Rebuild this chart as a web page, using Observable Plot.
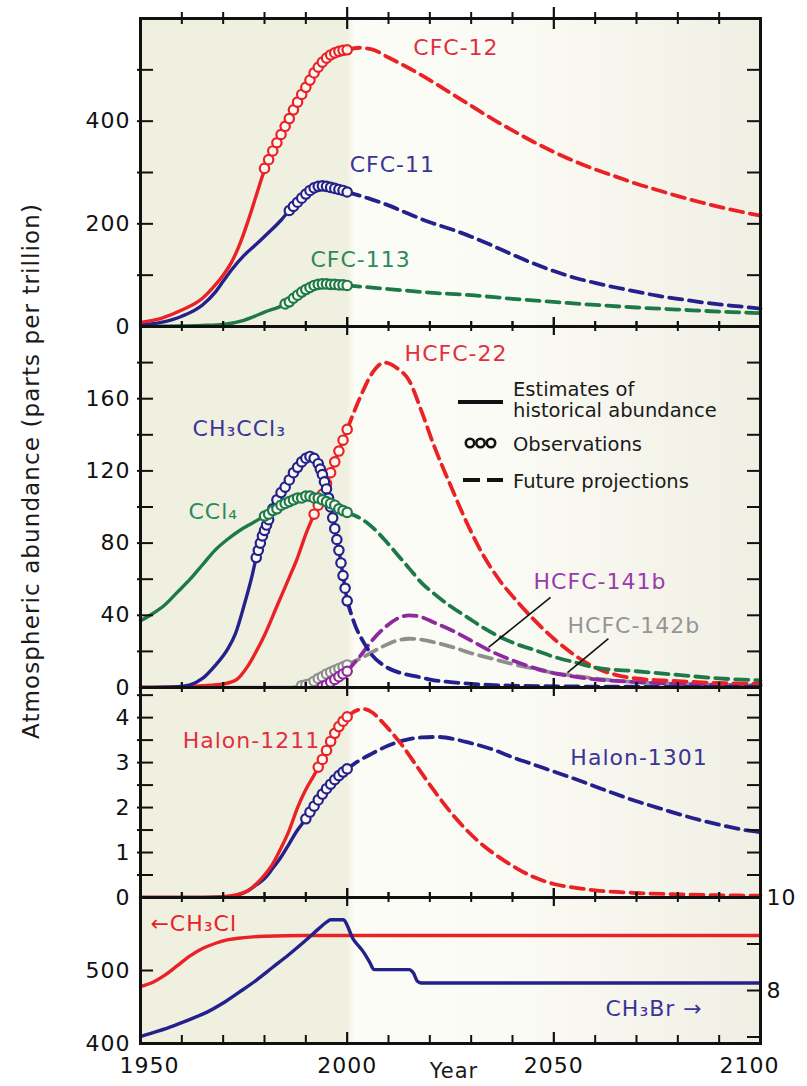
<!DOCTYPE html>
<html>
<head>
<meta charset="utf-8">
<script src="https://cdn.jsdelivr.net/npm/d3@7"></script>
<script src="https://cdn.jsdelivr.net/npm/@observablehq/plot@0.6"></script>
<style>
  body { margin: 0; background: #fff; }
  #chart { position: relative; width: 807px; height: 1086px; overflow: hidden; font-family: "DejaVu Sans", sans-serif; }
  #chart svg.panel { position: absolute; left: 0; }
  #chart svg.panel text { letter-spacing: 1px; }
  #overlay { position: absolute; left: 0; top: 0; overflow: visible; }
  #overlay text { font-family: "DejaVu Sans", sans-serif; fill: #1a1a1a; }
</style>
</head>
<body>
<svg width="0" height="0" style="position:absolute">
  <defs>
    <linearGradient id="bg" x1="0" x2="1" y1="0" y2="0">
      <stop offset="0" stop-color="#f0f0e1"/>
      <stop offset="0.333" stop-color="#f0f0e1"/>
      <stop offset="0.345" stop-color="#fcfcf6"/>
      <stop offset="0.6" stop-color="#fbfbf5"/>
      <stop offset="1" stop-color="#efefe4"/>
    </linearGradient>
  </defs>
</svg>
<div id="chart"></div>
<script>
// ---------------- DATA ----------------
// Panel 1 (ppt): CFC-12, CFC-11, CFC-113
const cfc12Hist = [[1950,8],[1955,16],[1960,32],[1965,55],[1968,80],[1970,100],[1972,125],[1974,160],[1976,205],[1978,255],[1980,305],[1982,343],[1984,376],[1986,405],[1989,452],[1992,494],[1995,523],[1998,536],[2000,539]];
const cfc12Obs = [[1980,308],[1981,325],[1982,342],[1983,358],[1984,374],[1985,390],[1986,405],[1987,422],[1988,437],[1989,452],[1990,466],[1991,480],[1992,494],[1993,505],[1994,515],[1995,523],[1996,529],[1997,533],[1998,536],[1999,538],[2000,539]];
const cfc12Proj = [[2000,539],[2003,543],[2006,540],[2010,524],[2015,503],[2020,480],[2025,455],[2030,430],[2035,405],[2040,382],[2045,360],[2050,340],[2055,322],[2060,306],[2065,292],[2070,278],[2075,266],[2080,254],[2085,243],[2090,233],[2095,224],[2100,216]];

const cfc11Hist = [[1950,3],[1955,8],[1960,20],[1965,42],[1968,66],[1970,88],[1972,110],[1975,138],[1978,160],[1981,183],[1984,207],[1986,226],[1988,242],[1990,258],[1992,270],[1994,274],[1996,271],[1998,267],[2000,262]];
const cfc11Obs = [[1986,226],[1987,234],[1988,242],[1989,250],[1990,258],[1991,265],[1992,270],[1993,273],[1994,274],[1995,273],[1996,271],[1997,269],[1998,267],[1999,265],[2000,262]];
const cfc11Proj = [[2000,262],[2005,250],[2010,236],[2015,219],[2020,203],[2025,190],[2030,175],[2035,158],[2040,140],[2045,123],[2050,108],[2055,95],[2060,85],[2065,76],[2070,68],[2075,60],[2080,54],[2085,48],[2090,43],[2095,39],[2100,35]];

const cfc113Hist = [[1950,0],[1960,1],[1965,2],[1970,4],[1975,12],[1980,28],[1985,44],[1988,61],[1991,76],[1994,83],[1997,82],[2000,80]];
const cfc113Obs = [[1985,44],[1986,48],[1987,55],[1988,61],[1989,67],[1990,72],[1991,76],[1992,80],[1993,82],[1994,83],[1995,83],[1996,82],[1997,82],[1998,81],[1999,81],[2000,80]];
const cfc113Proj = [[2000,80],[2010,73],[2020,66],[2030,61],[2040,54],[2050,48],[2060,42],[2070,37],[2080,33],[2090,29],[2100,26]];

// Panel 2 (ppt): HCFC-22, CH3CCl3, CCl4, HCFC-141b, HCFC-142b
const hcfc22Hist = [[1950,0],[1960,0.5],[1965,1],[1970,2],[1973,4],[1976,12],[1978,20],[1980,29],[1983,45],[1986,61],[1988,72],[1990,85],[1992,96],[1994,107],[1996,119],[1998,131],[2000,143]];
const hcfc22Obs = [[1992,96],[1993,101],[1994,107],[1995,113],[1996,119],[1997,125],[1998,131],[1999,137],[2000,143]];
const hcfc22Proj = [[2000,143],[2003,160],[2006,174],[2009,180],[2012,177],[2015,170],[2018,153],[2021,134],[2025,112],[2029,91],[2033,73],[2037,59],[2041,48],[2045,38],[2050,27],[2055,18],[2060,11],[2065,7],[2070,5],[2080,3.5],[2090,2.5],[2100,2]];

const ch3ccl3Hist = [[1950,0],[1958,0.3],[1962,1.5],[1965,5],[1968,12],[1971,21],[1973,30],[1975,45],[1977,62],[1978,72],[1980,87],[1982,99],[1984,108],[1986,115],[1988,122],[1990,127],[1991,128],[1992,127],[1993,124],[1994,118],[1995,110],[1996,100],[1997,88],[1998,76],[1999,62],[2000,48]];
const ch3ccl3Obs = [[1978,72],[1978.5,76],[1979,80],[1979.5,84],[1980,87],[1980.5,90],[1981,93],[1982,99],[1983,104],[1984,108],[1985,111],[1986,115],[1987,119],[1988,122],[1989,125],[1990,127],[1991,128],[1992,127],[1993,124],[1993.5,121],[1994,118],[1994.5,114],[1995,110],[1995.5,105],[1996,100],[1996.5,94],[1997,88],[1997.5,82],[1998,76],[1998.5,69],[1999,62],[1999.5,55],[2000,48]];
const ch3ccl3Proj = [[2000,48],[2002,34],[2004,25],[2006,18],[2009,12],[2013,8],[2017,6],[2021,4],[2025,3],[2030,2],[2040,1],[2060,0.5],[2100,0.3]];

const ccl4Hist = [[1950,37],[1953,41],[1956,46],[1959,53],[1962,60],[1965,68],[1968,76],[1971,82],[1974,87],[1977,91],[1980,95],[1983,99],[1986,103],[1989,105],[1991,106],[1994,104],[1997,101],[2000,97]];
const ccl4Obs = [[1980,95],[1981,96],[1982,98],[1983,99],[1984,101],[1985,102],[1986,103],[1987,104],[1988,105],[1989,105],[1990,106],[1991,106],[1992,105],[1993,105],[1994,104],[1995,103],[1996,102],[1997,101],[1998,99],[1999,98],[2000,97]];
const ccl4Proj = [[2000,97],[2003,94],[2006,89],[2009,82],[2012,74],[2015,66],[2018,58],[2021,52],[2025,45],[2029,39],[2033,33],[2037,28],[2041,24],[2045,21],[2050,17],[2055,14],[2060,11],[2070,9],[2080,7],[2090,5],[2100,4]];

const hcfc141bHist = [[1993,0],[1994,0.5],[1995,1.5],[1996,3],[1997,4.5],[1998,6],[1999,7.5],[2000,9]];
const hcfc141bObs = [[1994,0.5],[1995,1.5],[1996,3],[1997,4.5],[1998,6],[1999,7.5],[2000,9]];
const hcfc141bProj = [[2000,9],[2003,17],[2006,26],[2009,33],[2012,38],[2015,40],[2018,39],[2021,36],[2025,32],[2030,26],[2034,21],[2040,15],[2045,11],[2050,8],[2055,6],[2060,4.5],[2070,3],[2080,2],[2090,1.5],[2100,1]];

const hcfc142bHist = [[1950,0],[1985,0],[1988,0.5],[1989,1],[1990,1.5],[1991,2],[1992,3.5],[1993,5],[1994,6],[1995,7.5],[1996,8.5],[1997,9.5],[1998,10.5],[1999,11.5],[2000,12.5]];
const hcfc142bObs = [[1989,1],[1990,1.5],[1991,2],[1992,3.5],[1993,5],[1994,6],[1995,7.5],[1996,8.5],[1997,9.5],[1998,10.5],[1999,11.5],[2000,12.5]];
const hcfc142bProj = [[2000,12.5],[2004,17],[2008,22],[2012,26],[2015,27],[2018,26.5],[2022,24.5],[2026,22],[2030,19],[2035,16],[2040,13],[2045,10.5],[2050,8],[2055,6.5],[2060,5],[2070,3],[2080,2],[2090,1.5],[2100,1]];

// Panel 3 (ppt): Halon-1211, Halon-1301
const h1211Hist = [[1950,0],[1965,0],[1970,0.02],[1973,0.06],[1976,0.15],[1978,0.3],[1980,0.5],[1982,0.75],[1984,1.1],[1986,1.5],[1988,2.0],[1990,2.4],[1992,2.72],[1994,3.07],[1996,3.47],[1998,3.8],[2000,4.02]];
const h1211Obs = [[1993,2.9],[1994,3.07],[1995,3.27],[1996,3.47],[1997,3.65],[1998,3.8],[1999,3.92],[2000,4.02]];
const h1211Proj = [[2000,4.02],[2002,4.15],[2004,4.19],[2006,4.12],[2008,3.95],[2010,3.75],[2013,3.42],[2017,2.9],[2021,2.38],[2025,1.9],[2029,1.49],[2033,1.15],[2037,0.88],[2041,0.65],[2045,0.46],[2050,0.3],[2055,0.22],[2060,0.16],[2070,0.1],[2080,0.07],[2090,0.05],[2100,0.04]];

const h1301Hist = [[1950,0],[1965,0],[1970,0.01],[1973,0.04],[1976,0.15],[1978,0.28],[1980,0.42],[1982,0.65],[1984,0.9],[1986,1.2],[1988,1.5],[1990,1.75],[1992,2.03],[1994,2.3],[1996,2.52],[1998,2.71],[2000,2.86]];
const h1301Obs = [[1990,1.75],[1991,1.9],[1992,2.03],[1993,2.17],[1994,2.3],[1995,2.42],[1996,2.52],[1997,2.62],[1998,2.71],[1999,2.79],[2000,2.86]];
const h1301Proj = [[2000,2.86],[2003,3.05],[2006,3.2],[2010,3.38],[2014,3.5],[2018,3.56],[2022,3.57],[2026,3.52],[2030,3.43],[2035,3.3],[2040,3.12],[2045,2.96],[2050,2.8],[2055,2.64],[2060,2.47],[2065,2.3],[2070,2.14],[2075,2.0],[2080,1.86],[2085,1.73],[2090,1.62],[2095,1.52],[2100,1.45]];

// Panel 4: CH3Cl (left axis, ppt) and CH3Br (right axis, ppt)
const ch3cl = [[1950,478],[1953,484],[1956,494],[1959,507],[1962,520],[1965,530],[1968,537],[1971,542],[1975,545],[1980,547],[1990,548],[2000,548],[2050,548],[2100,548]];
const ch3br = [[1950,7.01],[1954,7.12],[1958,7.24],[1962,7.38],[1966,7.53],[1970,7.73],[1974,7.97],[1978,8.22],[1982,8.5],[1986,8.78],[1990,9.08],[1993,9.32],[1995,9.47],[1996,9.52],[1999,9.52],[2001.5,9.1],[2004,8.82],[2005.5,8.6],[2006.5,8.45],[2015,8.45],[2016,8.38],[2017,8.2],[2018,8.16],[2100,8.16]];

// Tick values
const xMinorTicks = [1960,1970,1980,1990,2010,2020,2030,2040,2060,2070,2080,2090];
const xMajorTicks = [2000,2050];
const y1Ticks = [100,200,300,400,500];
const y1Labels = [0,200,400];
const y2Ticks = [20,40,60,80,100,120,140,160,180];
const y2Labels = [0,40,80,120,160];
const y3Ticks = [0.5,1,1.5,2,2.5,3,3.5,4,4.5];
const y3Labels = [0,1,2,3,4];
const y4LeftTicks = [500];
const y4LeftLabels = [400,500];
const y4RightTicks = [7,8,9];
const y4RightLabels = [8,10];

// ---------------- STYLE ----------------
const RED = "#ea2226", BLUE = "#24218c", GREEN = "#1d7a48", PURPLE = "#8e2a9e", GREY = "#8e8e8e";
const W = 807, ML = 140, MR = 47, PW = W - ML - MR;
const INK = "#111";
const fx = d => d[0], fy = d => d[1];

function seriesMarks(hist, obs, proj, color) {
  const m = [];
  if (hist) m.push(Plot.line(hist, {x: fx, y: fy, stroke: color, strokeWidth: 3.4, curve: "monotone-x"}));
  if (proj) m.push(Plot.line(proj, {x: fx, y: fy, stroke: color, strokeWidth: 3.8, strokeDasharray: "13,7", curve: "monotone-x"}));
  if (obs) m.push(Plot.dot(obs, {x: fx, y: fy, r: 4.7, stroke: color, strokeWidth: 2.2, fill: "#f9f9f2"}));
  return m;
}

function tickMarks(innerH, yTicks, {top = [5, 9], bottom = [5, 9], bottomInward = false}) {
  const m = [];
  m.push(Plot.tickX(xMinorTicks, {x: d => d, insetTop: -top[0], insetBottom: innerH - top[0], stroke: INK, strokeWidth: 2}));
  m.push(Plot.tickX(xMajorTicks, {x: d => d, insetTop: -top[1], insetBottom: innerH - top[1], stroke: INK, strokeWidth: 2.2}));
  if (bottomInward) {
    m.push(Plot.tickX(xMinorTicks, {x: d => d, insetTop: innerH - bottom[0], insetBottom: 0, stroke: INK, strokeWidth: 2}));
    m.push(Plot.tickX(xMajorTicks, {x: d => d, insetTop: innerH - bottom[1], insetBottom: 0, stroke: INK, strokeWidth: 2.2}));
  } else {
    m.push(Plot.tickX(xMinorTicks, {x: d => d, insetTop: innerH - bottom[0], insetBottom: -bottom[0], stroke: INK, strokeWidth: 2}));
    m.push(Plot.tickX(xMajorTicks, {x: d => d, insetTop: innerH - bottom[1], insetBottom: -bottom[1], stroke: INK, strokeWidth: 2.2}));
  }
  if (yTicks) {
    m.push(Plot.tickY(yTicks, {y: d => d, insetLeft: -3, insetRight: PW - 13, stroke: INK, strokeWidth: 2}));
    m.push(Plot.tickY(yTicks, {y: d => d, insetLeft: PW - 13, insetRight: 0, stroke: INK, strokeWidth: 2}));
  }
  return m;
}

function panel({frameTop, innerH, yDomain, marks, mb = 14, xAxis = false}) {
  const mt = 14;
  const svg = Plot.plot({
    width: W,
    height: mt + innerH + mb,
    marginLeft: ML, marginRight: MR, marginTop: mt, marginBottom: mb,
    x: xAxis ? {domain: [1950, 2100]} : {domain: [1950, 2100], axis: null},
    y: {domain: yDomain},
    style: {fontFamily: "DejaVu Sans, sans-serif", background: "transparent", overflow: "visible", color: INK},
    marks: [
      Plot.frame({fill: "url(#bg)"}),
      ...marks,
      Plot.frame({stroke: INK, strokeWidth: 3})
    ]
  });
  svg.classList.add("panel");
  svg.style.top = (frameTop - mt) + "px";
  document.getElementById("chart").appendChild(svg);
}

const labelFont = 22;
const yAxisLabels = (vals) => Plot.axisY(vals, {anchor: "left", tickSize: 0, tickPadding: 10, fontSize: 22, label: null, fill: INK});

// ---------------- PANEL 1 ----------------
const p1Labels = [
  {x: 2016, y: 542, t: "CFC-12", c: "#df3040"},
  {x: 2000.6, y: 314, t: "CFC-11", c: "#3a3597"},
  {x: 1991.1, y: 129, t: "CFC-113", c: "#2a8a58"}
];
panel({
  frameTop: 18, innerH: 308, yDomain: [0, 600],
  marks: [
    ...seriesMarks(cfc113Hist, cfc113Obs, cfc113Proj, GREEN),
    ...seriesMarks(cfc11Hist, cfc11Obs, cfc11Proj, BLUE),
    ...seriesMarks(cfc12Hist, cfc12Obs, cfc12Proj, RED),
    Plot.text(p1Labels, {x: "x", y: "y", text: "t", fill: "c", textAnchor: "start", fontSize: labelFont}),
    ...tickMarks(308, y1Ticks, {top: [6, 11], bottom: [5, 9]}),
    yAxisLabels(y1Labels)
  ]
});

// ---------------- PANEL 2 ----------------
const p2Labels = [
  {x: 2013.9, y: 185, t: "HCFC-22", c: "#e03040"},
  {x: 1962.6, y: 143.5, t: "CH₃CCl₃", c: "#3a3597"},
  {x: 1961.6, y: 97, t: "CCl₄", c: "#2a8a58"},
  {x: 2045.1, y: 58.2, t: "HCFC-141b", c: "#9a3aab"},
  {x: 2053.3, y: 34.3, t: "HCFC-142b", c: "#959595"}
];
const p2Leaders = [
  {x1: 2049.2, y1: 49.9, x2: 2034.2, y2: 22.2},
  {x1: 2063.2, y1: 27.1, x2: 2053.3, y2: 8.3}
];
panel({
  frameTop: 326, innerH: 361, yDomain: [0, 200],
  marks: [
    ...seriesMarks(hcfc142bHist, hcfc142bObs, hcfc142bProj, GREY),
    ...seriesMarks(hcfc141bHist, hcfc141bObs, hcfc141bProj, PURPLE),
    ...seriesMarks(hcfc22Hist, hcfc22Obs, hcfc22Proj, RED),
    ...seriesMarks(ch3ccl3Hist, ch3ccl3Obs, ch3ccl3Proj, BLUE),
    ...seriesMarks(ccl4Hist, ccl4Obs, ccl4Proj, GREEN),
    Plot.link(p2Leaders, {x1: "x1", y1: "y1", x2: "x2", y2: "y2", stroke: INK, strokeWidth: 1.6}),
    Plot.text(p2Labels, {x: "x", y: "y", text: "t", fill: "c", textAnchor: "start", fontSize: labelFont}),
    ...tickMarks(361, y2Ticks, {top: [5, 9], bottom: [5, 9]}),
    yAxisLabels(y2Labels)
  ]
});

// ---------------- PANEL 3 ----------------
const p3Labels = [
  {x: 1960.2, y: 3.49, t: "Halon-1211", c: "#e03040"},
  {x: 2054, y: 3.11, t: "Halon-1301", c: "#3a3597"}
];
panel({
  frameTop: 687, innerH: 210, yDomain: [0, 4.67],
  marks: [
    ...seriesMarks(h1301Hist, h1301Obs, h1301Proj, BLUE),
    ...seriesMarks(h1211Hist, h1211Obs, h1211Proj, RED),
    Plot.text(p3Labels, {x: "x", y: "y", text: "t", fill: "c", textAnchor: "start", fontSize: labelFont}),
    ...tickMarks(210, y3Ticks, {top: [5, 9], bottom: [5, 9]}),
    yAxisLabels(y3Labels)
  ]
});

// ---------------- PANEL 4 ----------------
const rightToLeft = d3.scaleLinear([8, 10], [472.6, 600]);
const ch3brLeft = ch3br.map(([yr, v]) => [yr, rightToLeft(v)]);
const p4Labels = [
  {x: 1952.4, y: 564.4, t: "←CH₃Cl", c: RED},
  {x: 2062.5, y: 448, t: "CH₃Br →", c: "#3a3597"}
];
panel({
  frameTop: 897, innerH: 146, yDomain: [400, 600], mb: 43, xAxis: true,
  marks: [
    Plot.line(ch3cl, {x: fx, y: fy, stroke: RED, strokeWidth: 3.4, curve: "monotone-x"}),
    Plot.line(ch3brLeft, {x: fx, y: fy, stroke: BLUE, strokeWidth: 3.4, curve: "monotone-x"}),
    Plot.text(p4Labels, {x: "x", y: "y", text: "t", fill: "c", textAnchor: "start", fontSize: labelFont}),
    ...tickMarks(146, null, {top: [5, 9], bottom: [8, 11], bottomInward: true}),
    Plot.tickY(y4LeftTicks, {y: d => d, insetLeft: 0, insetRight: PW - 13, stroke: INK, strokeWidth: 2}),
    Plot.tickY(y4RightTicks.map(v => rightToLeft(v)), {y: d => d, insetLeft: PW - 13, insetRight: 0, stroke: INK, strokeWidth: 2}),
    yAxisLabels(y4LeftLabels),
    Plot.axisY(y4RightLabels.map(v => rightToLeft(v)), {anchor: "right", tickSize: 0, tickPadding: 6, fontSize: 22, label: null, fill: INK, tickFormat: d => String(Math.round(rightToLeft.invert(d)))}),
    Plot.axisX([1950], {anchor: "bottom", tickSize: 0, tickPadding: 14, fontSize: 22, label: null, dx: 9, tickFormat: d => String(d)}),
    Plot.axisX([2000, 2050], {anchor: "bottom", tickSize: 0, tickPadding: 14, fontSize: 22, label: null, tickFormat: d => String(d)}),
    Plot.axisX([2100], {anchor: "bottom", tickSize: 0, tickPadding: 14, fontSize: 22, label: null, dx: -11, tickFormat: d => String(d)})
  ]
});

// ---------------- OVERLAY: axis titles and legend ----------------
const ns = "http://www.w3.org/2000/svg";
const ov = document.createElementNS(ns, "svg");
ov.setAttribute("id", "overlay");
ov.setAttribute("width", 807);
ov.setAttribute("height", 1086);
ov.innerHTML = `
  <text transform="translate(39,471) rotate(-90)" text-anchor="middle" font-size="23" style="letter-spacing:1.1px">Atmospheric abundance (parts per trillion)</text>
  <text x="454" y="1078" text-anchor="middle" font-size="21" style="letter-spacing:1px">Year</text>
  <g>
    <line x1="458" x2="503" y1="402" y2="402" stroke="#111" stroke-width="4"/>
    <text x="513" y="396" font-size="19.5">Estimates of</text>
    <text x="513" y="417" font-size="19.5">historical abundance</text>
    <circle cx="470" cy="443" r="4.2" fill="none" stroke="#111" stroke-width="2.6"/>
    <circle cx="480.5" cy="443" r="4.2" fill="none" stroke="#111" stroke-width="2.6"/>
    <circle cx="491" cy="443" r="4.2" fill="none" stroke="#111" stroke-width="2.6"/>
    <text x="513" y="451" font-size="19.5">Observations</text>
    <line x1="463" x2="480" y1="480" y2="480" stroke="#111" stroke-width="4"/>
    <line x1="487" x2="503" y1="480" y2="480" stroke="#111" stroke-width="4"/>
    <text x="513" y="488" font-size="19.5">Future projections</text>
  </g>`;
document.getElementById("chart").appendChild(ov);
</script>
</body>
</html>
